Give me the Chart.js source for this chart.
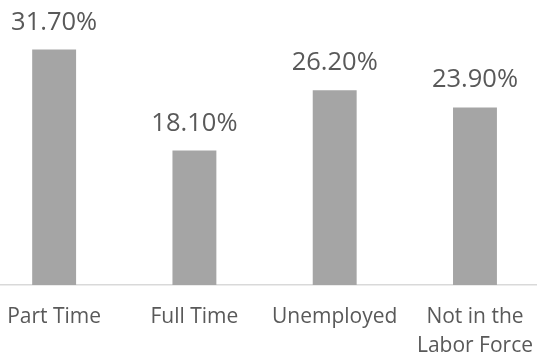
<!DOCTYPE html>
<html>
<head>
<meta charset="utf-8">
<script src="https://cdn.jsdelivr.net/npm/chart.js@4"></script>
<style>
  html, body { margin: 0; padding: 0; background: #fff; overflow: hidden; }
  #wrap { position: relative; width: 537px; height: 358px; overflow: hidden; }
  #wrap canvas { position: absolute; left: -16px; top: 0; }
</style>
</head>
<body>
<div id="wrap"><canvas id="statusChart" width="567" height="358"></canvas></div>
<script>
const categories = ['Part Time', 'Full Time', 'Unemployed', ['Not in the', 'Labor Force']];
const shares = [31.7, 18.1, 26.2, 23.9];
const yMax = 35;

// value labels over each bar
const barLabels = {
    id: 'barLabels',
    afterDatasetsDraw(chart) {
        let ctx = chart.ctx;
        let meta = chart.getDatasetMeta(0);
        ctx.save();
        ctx.font = '25.5px "Open Sans"';
        ctx.fillStyle = '#595959';
        ctx.textAlign = 'center';
        ctx.textBaseline = 'alphabetic';
        meta.data.forEach((bar, i) => {
            ctx.fillText(shares[i].toFixed(2) + '%', bar.x, bar.y - 20);
        });
        ctx.restore();
    }
};

let ctx = document.getElementById('statusChart');
let chart = new Chart(ctx, {
    type: 'bar',
    data: {
        labels: categories,
        datasets: [{
            data: shares,
            backgroundColor: '#A5A5A5',
            categoryPercentage: 1,
            barPercentage: 0.313
        }]
    },
    options: {
        responsive: false,
        animation: false,
        layout: { padding: { top: 25, left: 0, right: 0, bottom: 0 } },
        plugins: {
            legend: { display: false },
            tooltip: { enabled: false }
        },
        scales: {
            x: {
                grid: { display: false, drawTicks: false },
                border: { display: true, color: '#D9D9D9', width: 1.5 },
                ticks: {
                    color: '#595959',
                    font: { family: 'Open Sans', size: 21, lineHeight: 1.35 },
                    padding: 18,
                    maxRotation: 0,
                    autoSkip: false
                },
                afterFit(scale) { scale.height = 73; }
            },
            y: {
                display: false,
                min: 0,
                max: yMax
            }
        }
    },
    plugins: [barLabels]
});
</script>
</body>
</html>
